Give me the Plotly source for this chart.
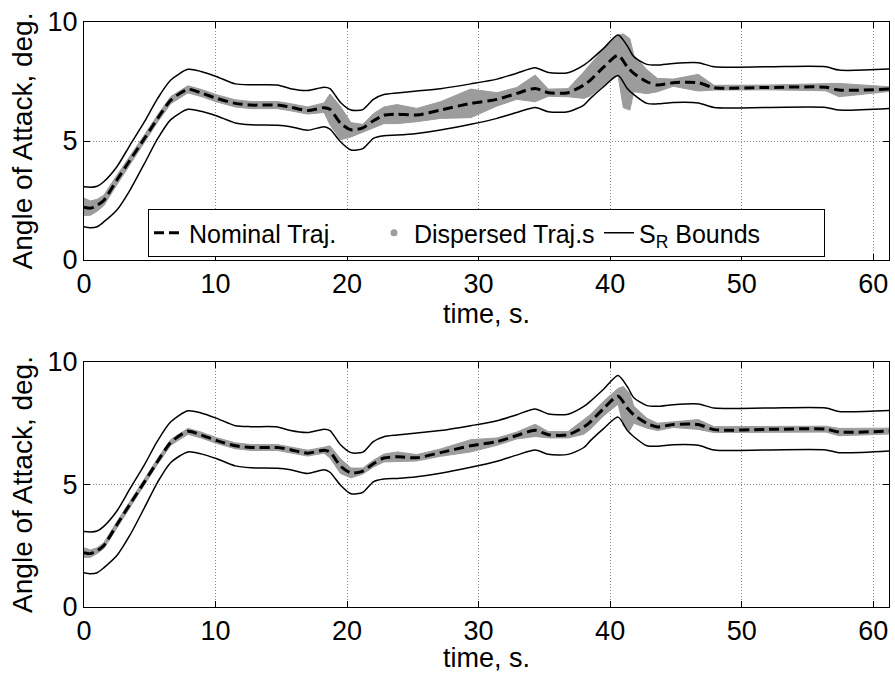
import plotly.graph_objects as go

# ---------------- data ----------------
t = [0, 0.5, 1, 1.5, 2.5, 3.5, 4.6, 5.6, 6.6, 7.9, 8.9, 10.1, 11.5, 12.7, 14.7, 15.7, 17,
     18.25, 18.7, 19.5, 20.3, 21.2, 22, 22.8, 23.8, 25.3, 27.1, 29.4, 31.4, 32.9, 34.3,
     35.3, 36.8, 38, 38.5, 39.5, 40.6, 41.3, 41.8, 42.8, 43.6, 44.8, 46.7, 47.9, 52,
     56.4, 57.4, 61.2]

nominal = [2.22, 2.18, 2.3, 2.5, 3.36, 4.2, 5.11, 5.95, 6.72, 7.17, 7.02, 6.79, 6.58, 6.51,
           6.51, 6.42, 6.28, 6.4, 6.33, 5.75, 5.47, 5.55, 5.85, 6.08, 6.13, 6.09, 6.3, 6.58,
           6.75, 7.0, 7.21, 7.03, 7.03, 7.35, 7.56, 8.1, 8.6, 8.12, 7.84, 7.49, 7.35, 7.45,
           7.45, 7.24, 7.25, 7.26, 7.14, 7.18]

upper = [3.08, 3.06, 3.1, 3.29, 3.92, 4.83, 5.81, 6.79, 7.56, 8.01, 7.92, 7.70, 7.40, 7.36,
         7.35, 7.2, 7.12, 7.26, 7.2, 6.62, 6.3, 6.32, 6.75, 6.95, 7.02, 7.1, 7.2, 7.4, 7.6,
         7.85, 8.08, 7.88, 7.87, 8.19, 8.4, 8.89, 9.45, 9.0, 8.54, 8.22, 8.19, 8.26, 8.29,
         8.12, 8.12, 8.12, 7.98, 8.02]

lower = [1.4, 1.36, 1.4, 1.6, 2.1, 2.94, 4.06, 5.1, 5.9, 6.33, 6.25, 6.05, 5.76, 5.68, 5.66,
         5.6, 5.45, 5.6, 5.5, 4.97, 4.62, 4.68, 5.11, 5.22, 5.25, 5.32, 5.46, 5.7, 5.95, 6.2,
         6.41, 6.23, 6.23, 6.51, 6.79, 7.28, 7.75, 7.21, 6.95, 6.58, 6.56, 6.62, 6.6, 6.41,
         6.41, 6.41, 6.3, 6.37]

# time grid of the dispersed-trajectory envelopes
disp_t = [0, 0.5, 1, 1.5, 2.5, 3.5, 4.6, 5.6, 6.6, 7.9, 8.9, 10.1, 11.5, 12.7, 14.7, 15.7, 17,
          18.25, 18.7, 19.5, 20.3, 21.2, 22, 22.8, 23.8, 25.3, 27.1, 29.4, 31.4, 32.9, 34.3,
          35.3, 36.8, 38, 38.5, 39.5, 40.6, 41.0, 41.5, 41.8, 42.8, 43.6, 44.8, 46.7, 47.9, 52,
          56.4, 57.4, 61.2]

# envelope of the dispersed trajectories, upper panel
disp_top_hi = [2.6, 2.48, 2.55, 2.72, 3.56, 4.35, 5.26, 6.1, 6.87, 7.32, 7.17, 6.94, 6.73,
               6.66, 6.66, 6.57, 6.43, 6.6, 6.98, 6.45, 5.77, 5.7, 6.15, 6.43, 6.53, 6.37,
               6.65, 7.18, 7.03, 7.25, 7.77, 7.18, 7.2, 7.91, 8.22, 8.87, 9.44, 9.5, 9.3, 8.61,
               7.99, 7.63, 7.6, 7.8, 7.34, 7.35, 7.41, 7.42, 7.28]
disp_top_lo = [1.87, 1.88, 2.05, 2.28, 3.16, 4.05, 4.96, 5.8, 6.57, 7.02, 6.87, 6.64, 6.43,
               6.36, 6.36, 6.27, 6.13, 6.2, 5.68, 5.05, 5.17, 5.4, 5.55, 5.73, 5.73, 5.81,
               5.95, 5.98, 6.47, 6.75, 6.65, 6.88, 6.86, 6.79, 6.9, 7.33, 7.76, 6.4, 6.3, 7.07,
               6.99, 7.07, 7.3, 7.1, 7.14, 7.15, 7.11, 6.86, 7.08]

# envelope of the dispersed trajectories, lower panel
disp_bot_hi = [2.42, 2.33, 2.42, 2.62, 3.48, 4.32, 5.23, 6.07, 6.84, 7.29, 7.14, 6.91, 6.7,
               6.63, 6.63, 6.54, 6.4, 6.52, 6.58, 6.05, 5.67, 5.67, 5.99, 6.24, 6.33, 6.22,
               6.45, 6.83, 6.9, 7.14, 7.46, 7.16, 7.16, 7.65, 7.86, 8.4, 8.92, 9.0, 8.7, 8.2,
               7.7, 7.5, 7.57, 7.65, 7.36, 7.37, 7.38, 7.29, 7.3]
disp_bot_lo = [2.02, 2.03, 2.18, 2.38, 3.24, 4.08, 4.99, 5.83, 6.6, 7.05, 6.9, 6.67, 6.46,
               6.39, 6.39, 6.3, 6.16, 6.28, 6.08, 5.45, 5.27, 5.43, 5.71, 5.92, 5.93, 5.96,
               6.15, 6.33, 6.6, 6.86, 6.96, 6.9, 6.9, 7.05, 7.26, 7.8, 8.28, 7.4, 7.2, 7.5,
               7.3, 7.2, 7.33, 7.25, 7.12, 7.13, 7.14, 6.99, 7.06]

x_ticks = [0, 10, 20, 30, 40, 50, 60]
y_ticks = [0, 5, 10]
x_title = "time, s."
y_title = "Angle of Attack, deg."
legend_names = ["Nominal Traj.", "Dispersed Traj.s", "S<sub>R</sub> Bounds"]

# ---------------- figure ----------------
FONT = "Liberation Sans, Arial, sans-serif"
GRAY = "#9c9c9c"
fig = go.Figure()

panels = [("x", "y", disp_top_hi, disp_top_lo, True),
          ("x2", "y2", disp_bot_hi, disp_bot_lo, False)]

for xa, ya, hi, lo, show in panels:
    fig.add_trace(go.Scatter(
        x=disp_t + disp_t[::-1], y=hi + lo[::-1], fill="toself", fillcolor=GRAY,
        line=dict(width=1, color=GRAY), mode="lines", hoverinfo="skip",
        showlegend=False, xaxis=xa, yaxis=ya))
    fig.add_trace(go.Scatter(
        x=t, y=upper, mode="lines",
        line=dict(color="black", width=1.5, shape="spline", smoothing=0.7),
        name=legend_names[2], showlegend=show, legendrank=3, xaxis=xa, yaxis=ya))
    fig.add_trace(go.Scatter(
        x=t, y=lower, mode="lines",
        line=dict(color="black", width=1.5, shape="spline", smoothing=0.7),
        showlegend=False, xaxis=xa, yaxis=ya))
    fig.add_trace(go.Scatter(
        x=t, y=nominal, mode="lines",
        line=dict(color="black", width=3, dash="10px,5px", shape="spline", smoothing=0.7),
        name=legend_names[0], showlegend=show, legendrank=1, xaxis=xa, yaxis=ya))

# legend-only marker for dispersed trajectories
fig.add_trace(go.Scatter(
    x=[None], y=[None], mode="markers", marker=dict(color=GRAY, size=7),
    name=legend_names[1], showlegend=True, legendrank=2, xaxis="x", yaxis="y"))

axis_common = dict(
    showline=True, linecolor="black", linewidth=1, mirror="allticks",
    ticks="inside", ticklen=6, tickcolor="black", tickwidth=1,
    showgrid=True, gridcolor="#8c8c8c", griddash="1px,2px", gridwidth=1,
    zeroline=False, tickfont=dict(size=27, color="black", family=FONT),
)

H = 673
top_plot = (22, 260)
bot_plot = (362, 607)
mt, mb = 22, 66
ph = H - mt - mb


def dom(a, b):
    return [(H - mb - b) / ph, (H - mb - a) / ph]


fig.update_layout(
    width=895, height=673,
    margin=dict(l=84, r=6, t=mt, b=mb),
    paper_bgcolor="white", plot_bgcolor="white",
    font=dict(family=FONT, size=27, color="black"),
    xaxis=dict(axis_common, range=[0, 61.2], tickvals=x_ticks, anchor="y",
               title=dict(text=x_title, standoff=0, font=dict(size=27))),
    yaxis=dict(axis_common, range=[0, 10], tickvals=y_ticks, domain=dom(*top_plot), anchor="x",
               title=dict(text=y_title, standoff=6, font=dict(size=28))),
    xaxis2=dict(axis_common, range=[0, 61.2], tickvals=x_ticks, anchor="y2",
                title=dict(text=x_title, standoff=0, font=dict(size=27))),
    yaxis2=dict(axis_common, range=[0, 10], tickvals=y_ticks, domain=dom(*bot_plot), anchor="x2",
                title=dict(text=y_title, standoff=6, font=dict(size=28))),
    legend=dict(
        orientation="h", x=(148 - 84) / 805, y=1 - (209 - mt) / ph,
        xanchor="left", yanchor="top", bgcolor="white",
        bordercolor="black", borderwidth=1, font=dict(size=25, family=FONT),
        traceorder="normal", entrywidth=180, entrywidthmode="pixels",
    ),
    showlegend=True,
)

fig.write_html(
    "out.html",
    config={"displayModeBar": False},
    post_script="document.body.style.margin='0';document.body.style.overflow='hidden';",
)
